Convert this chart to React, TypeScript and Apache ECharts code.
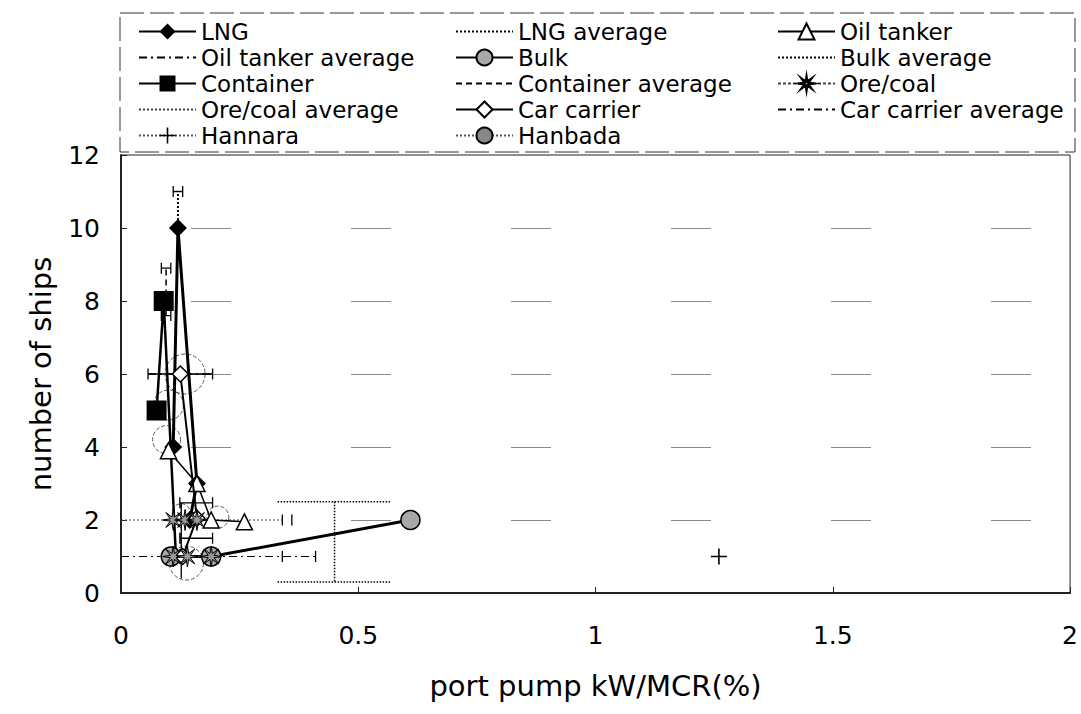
import React, { useEffect, useRef } from "react";
import * as echarts from "echarts";

// ---- data ----
const xTicks = [0, 0.5, 1, 1.5, 2];
const yTicks = [0, 2, 4, 6, 8, 10, 12];

const lngPts = [[0.11, 4.0], [0.12, 10], [0.16, 3], [0.145, 2]];
const lngAvg = [[0.12, 10], [0.12, 11]];
const oilPts = [[0.1, 3.9], [0.16, 3], [0.19, 2], [0.26, 1.95]];
const oilAvg = [[0, 1], [0.41, 1]];
const bulkPts = [[0.105, 1], [0.19, 1], [0.61, 2]];
const bulkAvg = [[0.33, 2.5], [0.57, 2.5], ["-", "-"], [0.45, 2.5], [0.45, 0.3], ["-", "-"], [0.33, 0.3], [0.57, 0.3]];
const contPts = [[0.075, 5], [0.09, 8], [0.115, 1.2]];
const contHidden = [2]; // indices drawn without a marker
const contAvg = [[0.095, 7.6], [0.095, 8.9]];
const orePts = [[0.11, 2], [0.135, 2], [0.16, 2], ["-", "-"], [0.11, 1], [0.14, 1], [0.19, 1]];
const oreAvg = [[0, 2], [0.34, 2]];
const carPts = [[0.125, 6], [0.16, 2.05], [0.13, 1]];
const carAvg = [[0.057, 6], [0.193, 6]];
const hannaraPts = [[1.26, 1]];
const hanbadaPts = [[0.15, 2.05]];

// large thin circles: [x, y, diameter]
const ringPts = [[0.135, 6, 40], [0.1, 5.15, 30], [0.096, 4.2, 28], [0.204, 2.08, 22], [0.138, 0.82, 34], [0.127, 2.2, 18]];

// horizontal error bars: [y, xLow, xHigh]
const hBars = [[11, 0.11, 0.13], [8.9, 0.085, 0.105], [7.6, 0.085, 0.105], [6, 0.057, 0.193], [2.47, 0.124, 0.193], [1.5, 0.124, 0.193]];
// vertical error bars: [x, yLow, yHigh]
const vBars = [[0.127, 0.4, 2.47]];
// short vertical tick marks on the average lines: [x, y]
const capTicks = [[0.34, 2], [0.36, 2], [0.34, 1], [0.41, 1]];

// legend columns (row-major order in the reference)
const legendCol1 = ["LNG", "Oil tanker average", "Container", "Ore/coal average", "Hannara"];
const legendCol2 = ["LNG average", "Bulk", "Container average", "Car carrier", "Hanbada"];
const legendCol3 = ["Oil tanker", "Bulk average", "Ore/coal", "Car carrier average"];

const STAR = "path://M10 0L11.15 7.23L17.07 2.93L12.77 8.85L20 10L12.77 11.15L17.07 17.07L11.15 12.77L10 20L8.85 12.77L2.93 17.07L7.23 11.15L0 10L7.23 8.85L2.93 2.93L8.85 7.23Z";
const PLUS = "path://M9 0h2v9h9v2h-9v9h-2v-9h-9v-2h9z";

function buildCaps() {
  const segs: any[] = [];
  const capH = 0.15;
  hBars.forEach(([y, a, b]) => {
    segs.push([a, y], [b, y], ["-", "-"]);
    segs.push([a, y - capH], [a, y + capH], ["-", "-"]);
    segs.push([b, y - capH], [b, y + capH], ["-", "-"]);
  });
  vBars.forEach(([x, a, b]) => {
    segs.push([x, a], [x, b], ["-", "-"]);
  });
  capTicks.forEach(([x, y]) => {
    segs.push([x, y - capH], [x, y + capH], ["-", "-"]);
  });
  return segs;
}

export default function App() {
  const ref = useRef<HTMLDivElement>(null);
  useEffect(() => {
    if (!ref.current) return;
    const chart = echarts.init(ref.current, null, { renderer: "svg" });
    const font = "DejaVu Sans, Verdana, sans-serif";
    const clear = { color: "rgba(0,0,0,0)", borderWidth: 0 };
    const line = (name: string, data: any[], lineStyle: any, extra: any = {}) => ({
      name,
      type: "line",
      data,
      symbol: "none",
      lineStyle: { color: "#000", width: 1.5, ...lineStyle },
      itemStyle: clear,
      connectNulls: false,
      clip: false,
      z: 3,
      ...extra,
    });
    const legendBase = (data: string[], left: number) => ({
      data,
      left,
      top: 20,
      orient: "vertical",
      itemWidth: 57,
      itemHeight: 20,
      itemGap: 3,
      padding: 0,
      textStyle: { fontFamily: font, fontSize: 23, color: "#000" },
    });
    const contData = contPts.map((p, i) => (contHidden.includes(i) ? { value: p, symbol: "none" } : p));
    const option: any = {
      animation: false,
      backgroundColor: "#fff",
      textStyle: { fontFamily: font },
      grid: { left: 121, right: 8, top: 155, bottom: 121, show: true, borderColor: "#222", borderWidth: 1 },
      legend: [legendBase(legendCol1, 138), legendBase(legendCol2, 455), legendBase(legendCol3, 777)],
      graphic: [
        {
          type: "rect",
          shape: { x: 120, y: 13, width: 955, height: 139 },
          style: { fill: "none", stroke: "#333", lineWidth: 1, lineDash: [24, 6] },
          silent: true,
        },
      ],
      xAxis: {
        type: "value",
        min: xTicks[0],
        max: xTicks[xTicks.length - 1],
        interval: 0.5,
        name: "port pump kW/MCR(%)",
        nameLocation: "middle",
        nameGap: 78,
        nameTextStyle: { fontSize: 29, color: "#000", fontFamily: font },
        axisLine: { lineStyle: { color: "#222", width: 2 } },
        axisTick: { inside: true, length: 6, lineStyle: { color: "#222" } },
        axisLabel: { fontSize: 25, color: "#000", margin: 30, fontFamily: font },
        splitLine: { show: false },
      },
      yAxis: {
        type: "value",
        min: yTicks[0],
        max: yTicks[yTicks.length - 1],
        interval: 2,
        name: "number of ships",
        nameLocation: "middle",
        nameGap: 66,
        nameTextStyle: { fontSize: 29, color: "#000", fontFamily: font },
        axisLine: { lineStyle: { color: "#222", width: 2 } },
        axisTick: { inside: true, length: 6, lineStyle: { color: "#222" } },
        axisLabel: { fontSize: 25, color: "#000", margin: 21, fontFamily: font },
        splitLine: { show: true, lineStyle: { color: "#888", width: 1, type: [40, 120], dashOffset: 90 } },
      },
      series: [
        line("LNG", lngPts, { width: 3 }, { symbol: "diamond", symbolSize: 18, itemStyle: { color: "#000" }, z: 5 }),
        line("LNG average", lngAvg, { type: "dotted", width: 2 }),
        line("Oil tanker", oilPts, { width: 1.5 }, { symbol: "triangle", symbolSize: 16, itemStyle: { color: "#fff", borderColor: "#000", borderWidth: 1.5 }, z: 6 }),
        line("Oil tanker average", oilAvg, { type: [8, 4, 2, 4], width: 1 }),
        line("Bulk", bulkPts, { width: 3 }, { symbol: "circle", symbolSize: 19, itemStyle: { color: "#a8a8a8", borderColor: "#000", borderWidth: 1.5 }, z: 6 }),
        line("Bulk average", bulkAvg, { type: "dotted", width: 1.5 }),
        line("Container", contData, { width: 2.5 }, { symbol: "rect", symbolSize: 20, itemStyle: { color: "#000" }, z: 5 }),
        line("Container average", contAvg, { type: [6, 4], width: 1.5 }),
        line("Ore/coal", orePts, { type: [3, 2], width: 1, color: "#444" }, { symbol: STAR, symbolSize: 21, itemStyle: { color: "#999", borderColor: "#000", borderWidth: 1 }, z: 8 }),
        line("Ore/coal average", oreAvg, { type: [2, 2], width: 1, color: "#444" }),
        line("Car carrier", carPts, { width: 2 }, { symbol: "diamond", symbolSize: 16, itemStyle: { color: "#fff", borderColor: "#000", borderWidth: 1.5 }, z: 7 }),
        line("Car carrier average", carAvg, { type: [8, 4, 2, 4], width: 1.5 }),
        line("Hannara", hannaraPts, { type: "dotted", width: 1, color: "#555" }, { symbol: PLUS, symbolSize: 16, itemStyle: { color: "#000" } }),
        line("Hanbada", hanbadaPts, { type: "dotted", width: 1, color: "#555" }, { symbol: "circle", symbolSize: 11, itemStyle: { color: "#888", borderColor: "#000", borderWidth: 1 } }),
        {
          name: "rings",
          type: "scatter",
          data: ringPts.map((p) => [p[0], p[1]]),
          symbol: "circle",
          symbolSize: (v: any, params: any) => ringPts[params.dataIndex][2],
          itemStyle: { color: "rgba(0,0,0,0)", borderColor: "#333", borderWidth: 1, borderType: "dashed" },
          silent: true,
          z: 2,
        },
        line("caps", buildCaps(), { width: 1.3, color: "#000" }, { silent: true, z: 4 }),
      ],
    };
    chart.setOption(option);
    return () => chart.dispose();
  }, []);
  return <div ref={ref} style={{ position: "fixed", left: 0, top: 0, width: 1081, height: 714, background: "#fff" }} />;
}
